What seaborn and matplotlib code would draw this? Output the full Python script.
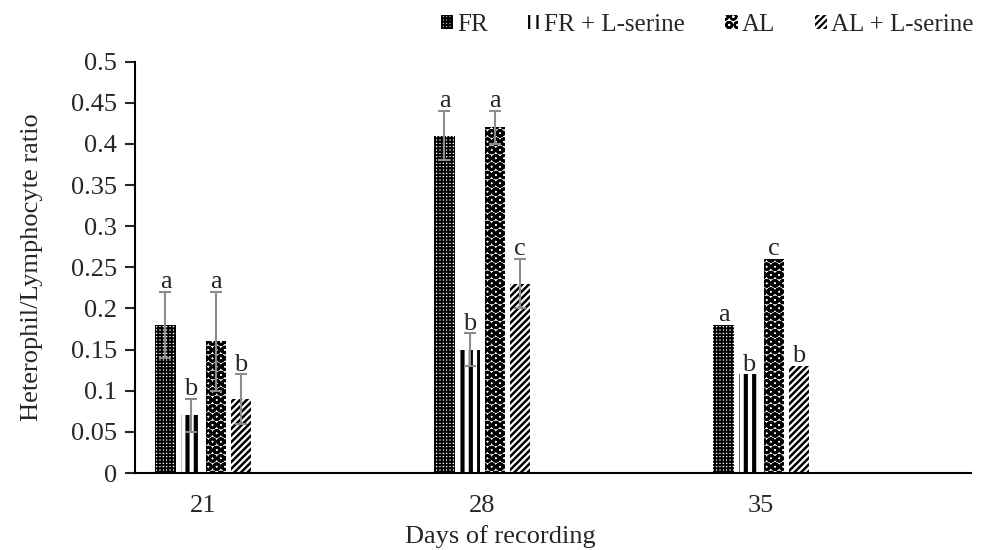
import numpy as np
import pandas as pd
import matplotlib
matplotlib.use("Agg")
import matplotlib.pyplot as plt
from matplotlib.patches import Patch
import seaborn as sns

# --- DATA
days = ["21", "28", "35"]
groups = ["FR", "FR + L-serine", "AL", "AL + L-serine"]
fr = [0.18, 0.41, 0.18]
fr_ser = [0.07, 0.15, 0.12]
al = [0.16, 0.42, 0.26]
al_ser = [0.09, 0.23, 0.13]
fr_err = [0.04, 0.03, 0.0]
fr_ser_err = [0.02, 0.02, 0.0]
al_err = [0.06, 0.02, 0.0]
al_ser_err = [0.03, 0.03, 0.0]
fr_let = ["a", "a", "a"]
fr_ser_let = ["b", "b", "b"]
al_let = ["a", "a", "c"]
al_ser_let = ["b", "c", "b"]

vals = [fr, fr_ser, al, al_ser]
errs = [fr_err, fr_ser_err, al_err, al_ser_err]
lets = [fr_let, fr_ser_let, al_let, al_ser_let]

df = pd.DataFrame({
    "day": days * 4,
    "grp": np.repeat(groups, 3),
    "hl": np.concatenate(vals),
})

sns.set_style("white")
plt.rcParams["font.family"] = ["Liberation Serif", "DejaVu Serif"]
plt.rcParams["hatch.linewidth"] = 1.6
FS = 19

fig = plt.figure(figsize=(9.86, 5.5), dpi=100)
ax = fig.add_axes([0.137, 0.14, 0.848, 0.748])

ax = sns.barplot(data=df, x="day", y="hl", hue="grp", hue_order=groups,
                 order=days, width=0.36, gap=0.2, errorbar=None,
                 color="white", legend=False, ax=ax)

# hatch and hatch line width per group
styles = [("+++++", 1.4), ("||", 3.0), ("OO", 2.0), ("/////", 1.8)]
for cont, st, e, l in zip(ax.containers, styles, errs, lets):
    h, hlw = st
    for bar, ee, ll in zip(cont, e, l):
        bar.set_facecolor("white")
        bar.set_edgecolor("black")
        bar.set_linewidth(0)
        bar.set_hatch(h)
        if hasattr(bar, "set_hatch_linewidth"):
            bar.set_hatch_linewidth(hlw)
        xc = bar.get_x() + bar.get_width() / 2
        top = bar.get_height()
        if ee > 0:
            ax.errorbar(xc, top, yerr=ee, color="#8c8c8c", capsize=4,
                        elinewidth=1.5, capthick=1.5, fmt="none", zorder=3)
        ax.annotate(ll, (xc, top + ee), xytext=(0, -1), textcoords="offset points",
                    ha="center", va="bottom", fontsize=FS)

ax.set_xlim(-0.244, 2.753)
ax.set_ylim(0, 0.5)
yt = np.round(np.arange(0, 0.501, 0.05), 2)
ax.set_yticks(yt)
ax.set_yticklabels([f"{v:g}" for v in yt])
for s in ["top", "right"]:
    ax.spines[s].set_visible(False)
for s in ["left", "bottom"]:
    ax.spines[s].set_color("black")
    ax.spines[s].set_linewidth(1.5)
ax.tick_params(axis="y", left=True, length=7, width=1.5, labelsize=FS, pad=6)
ax.tick_params(axis="x", bottom=False, labelsize=FS, pad=12)
ax.set_xlabel("Days of recording", fontsize=FS)
ax.set_ylabel("Heterophil/Lymphocyte ratio", fontsize=FS)
ax.xaxis.set_label_coords(0.4366, -0.127)
ax.yaxis.set_label_coords(-0.11, 0.5)

handles = []
for g, st in zip(groups, styles):
    p = Patch(facecolor="white", edgecolor="black", hatch=st[0], linewidth=0, label=g)
    handles.append(p)
ax.legend(handles=handles, loc="upper right", bbox_to_anchor=(1.0144, 1.14), ncol=4,
          frameon=False, fontsize=FS - 1, handlelength=0.5, handleheight=0.5,
          handletextpad=0.15, columnspacing=1.6, borderaxespad=0)

fig.savefig("out.png", dpi=100)
